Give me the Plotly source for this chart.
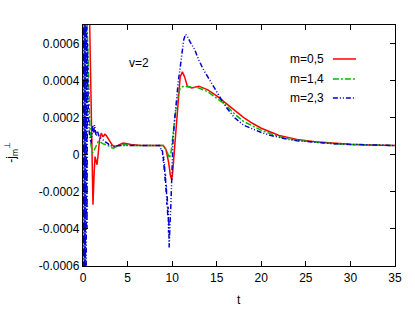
import plotly.graph_objects as go

# ---- data ----
t_red = [0, 0.3, 0.6, 0.75, 0.9, 1.0, 1.12, 1.25, 1.35, 1.45, 1.57, 1.7, 1.85, 2.05, 2.2, 2.3, 2.45,
         2.6, 2.8, 3.0, 3.3, 3.55, 3.9, 4.5, 5.4, 6.5, 8.0, 9.0, 9.3, 9.6, 9.8, 9.95, 10.05, 10.2,
         10.5, 10.7, 10.9, 11.15, 11.4, 11.7, 12.2, 13.0, 14.0, 15.0, 16.0, 17.0, 18.0, 19.0, 20.0,
         22.0, 24.0, 26.0, 28.0, 30.0, 32.0, 35.0]
v_red = [0.004, 0.0025, 0.0012, 0.0007, 0.0002, -0.0001, -0.00027, -0.0001, -0.00001, -0.00003,
         -0.000054, 0.0, 0.00008, 0.000117, 0.0001, 0.0001, 0.00011, 0.000105, 0.00009, 0.00007,
         0.00005, 0.000045, 0.00005, 0.000063, 0.000055, 0.00005, 0.00005, 0.00005, 0.00003,
         -0.00004, -0.00011, -0.000135, -0.0001, 0.0, 0.00018, 0.00031, 0.00042, 0.000447, 0.00042,
         0.00037, 0.00036, 0.00037, 0.00035, 0.000318, 0.00028, 0.00024, 0.000202, 0.00017, 0.000143,
         0.000104, 0.000083, 0.00007, 0.000062, 0.000057, 0.000053, 0.00005]

t_green = [0, 0.2, 0.4, 0.55, 0.65, 0.75, 0.9, 1.1, 1.3, 1.5, 1.7, 1.9, 2.2, 2.5, 2.8, 3.1, 3.4,
           3.8, 4.5, 5.5, 7.0, 9.0, 9.4, 9.7, 9.9, 10.1, 10.3, 10.6, 10.9, 11.3, 12.0, 13.0, 14.0,
           15.0, 16.0, 17.0, 18.0, 20.0, 22.0, 24.0, 26.0, 28.0, 30.0, 32.0, 35.0]
v_green = [0.002, 0.0012, 0.0008, 0.00055, 0.00035, 0.00018, 0.00005, 0.00001, 0.00003, 0.00005,
           0.00007, 0.00007, 0.00006, 0.000055, 0.00005, 0.00004, 0.000036, 0.000045, 0.000055,
           0.00005, 0.00005, 0.00005, 0.00002, -0.000018, 0.00002, 0.00012, 0.0002, 0.0003, 0.00036,
           0.00037, 0.000365, 0.00036, 0.00034, 0.000305, 0.00027, 0.00022, 0.00018, 0.000132,
           0.000097, 0.000078, 0.000067, 0.00006, 0.000055, 0.000052, 0.00005]

t_blue = [0, 0.05, 0.1, 0.15, 0.2, 0.25, 0.3, 0.35, 0.4, 0.45, 0.5, 0.55, 0.6, 0.7, 0.8, 0.9, 1.0,
          1.1, 1.2, 1.3, 1.4, 1.5, 1.6, 1.7, 1.8, 2.0, 2.2, 2.5, 2.8, 3.0, 3.5, 4.0, 5.0, 7.0, 8.6,
          8.8, 8.9, 9.0, 9.05, 9.1, 9.15, 9.2, 9.25, 9.3, 9.35, 9.4, 9.45, 9.5, 9.55, 9.6, 9.63,
          9.66, 9.7, 9.75, 9.8, 9.85, 9.9, 10.0, 10.1, 10.3, 10.5, 10.7, 10.9, 11.1, 11.3, 11.5,
          11.7, 12.0, 12.5, 13.0, 13.5, 14.0, 14.5, 15.0, 15.5, 16.0, 16.5, 17.0, 17.5, 18.0, 19.0,
          20.0, 21.0, 22.0, 23.0, 24.0, 26.0, 28.0, 30.0, 32.0, 35.0]
v_blue = [0.003, -0.002, 0.002, -0.0015, 0.0015, -0.0012, 0.0012, -0.0009, 0.0008, -0.0004,
          0.0006, 0.0003, 0.00022, 0.00012, 0.00008, 0.00006, 0.0001, 0.00016, 0.00012, 0.00016,
          0.00012, 0.0001, 0.00013, 0.00011, 0.0001, 0.00009, 0.00008, 0.00007, 0.00006, 0.00005,
          0.000045, 0.00005, 0.00005, 0.00005, 0.00005, 0.00002, 0.00003, -0.00004, -0.00001,
          -0.00008, -0.00005, -0.00014, -0.0001, -0.0002, -0.00016, -0.00027, -0.00022, -0.00033,
          -0.00028, -0.00042, -0.00036, -0.0005, -0.0004, -0.00045, -0.00033, -0.00028, -0.0002,
          -0.00004, 0.00008, 0.0002, 0.00031, 0.0004, 0.00047, 0.00056, 0.00062, 0.00065, 0.00064,
          0.00061, 0.00057, 0.00051, 0.00046, 0.00042, 0.00038, 0.00034, 0.0003, 0.00026, 0.00023,
          0.0002, 0.00018, 0.00016, 0.00014, 0.00012, 0.000105, 0.000092, 0.000083, 0.000076,
          0.000067, 0.00006, 0.000056, 0.000053, 0.00005]

names = ["m=0,5", "m=1,4", "m=2,3"]
colors = ["#ff0000", "#00bb00", "#0000cc"]
dashes = ["solid", "6px,2px,2px,2px", "5px,2px,1px,2px,1px,2px"]

x_ticks = [0, 5, 10, 15, 20, 25, 30, 35]
y_ticks = [-0.0006, -0.0004, -0.0002, 0, 0.0002, 0.0004, 0.0006]
y_ticktext = ["-0.0006", "-0.0004", "-0.0002", "0", "0.0002", "0.0004", "0.0006"]

series = [(t_red, v_red), (t_green, v_green), (t_blue, v_blue)]

fig = go.Figure()
for (tx, vy), nm, c, d in zip(series, names, colors, dashes):
    fig.add_trace(go.Scatter(x=tx, y=vy, mode="lines", name=nm,
                             line=dict(color=c, width=1.5, dash=d), showlegend=False))

font = dict(family="Liberation Sans, Arial, sans-serif", size=12, color="black")

# custom legend (text left of sample, like the original)
leg_y = [0.859, 0.776, 0.697]
for nm, c, d, yy in zip(names, colors, dashes, leg_y):
    fig.add_annotation(x=0.78, y=yy, xref="paper", yref="paper", text=nm, showarrow=False,
                       xanchor="right", yanchor="middle", font=font)
    fig.add_shape(type="line", xref="paper", yref="paper", x0=0.801, x1=0.875, y0=yy, y1=yy,
                  line=dict(color=c, width=1.5, dash=d))

fig.add_annotation(x=0.179, y=0.842, xref="paper", yref="paper", text="v=2", showarrow=False,
                   xanchor="center", yanchor="middle", font=font)
fig.add_annotation(x=0.5, y=0, xref="paper", yref="paper", text="t", showarrow=False,
                   xanchor="center", yanchor="middle", yshift=-34, font=font)
fig.add_annotation(x=0, y=0.47, xref="paper", yref="paper",
                   text="-j<sub>m</sub><sup>⊥</sup>", showarrow=False, textangle=-90,
                   xanchor="center", yanchor="middle", xshift=-72, font=font)

axis_common = dict(showgrid=False, zeroline=False, showline=True, linecolor="black", linewidth=1.3,
                   mirror="allticks", ticks="inside", ticklen=5, tickcolor="black", tickwidth=1,
                   tickfont=font)
fig.update_xaxes(range=[0, 35], tickvals=x_ticks, **axis_common)
fig.update_yaxes(range=[-0.0006, 0.0007], tickvals=y_ticks, ticktext=y_ticktext, **axis_common)

fig.update_layout(width=415, height=313, margin=dict(l=83, r=20, t=25, b=47),
                  paper_bgcolor="white", plot_bgcolor="white", font=font)

fig.write_html("out.html", config={"displayModeBar": False},
               post_script="document.body.style.margin='0';")
